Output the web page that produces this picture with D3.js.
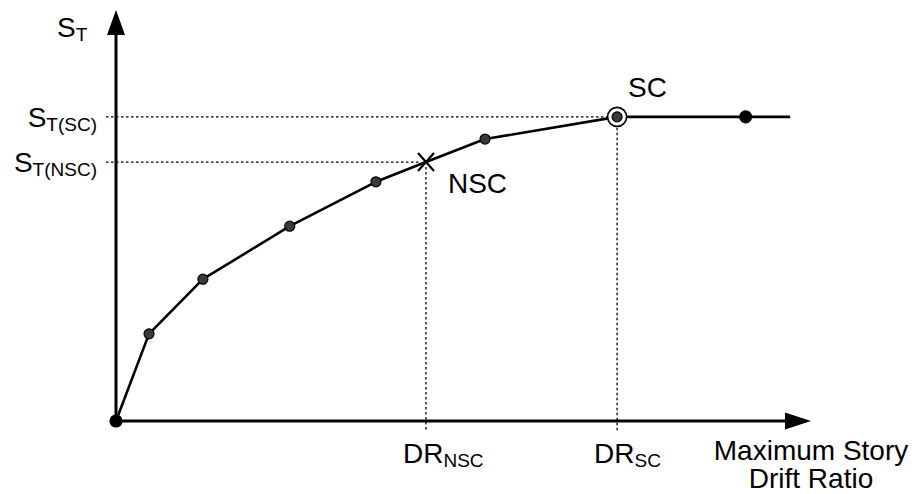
<!DOCTYPE html>
<html>
<head>
<meta charset="utf-8">
<script src="https://cdn.jsdelivr.net/npm/d3@7"></script>
<style>
  html, body { margin: 0; padding: 0; background: #fff; }
  svg { display: block; }
  text { font-family: "Liberation Sans", Arial, sans-serif; fill: #000; }
</style>
</head>
<body>
<svg id="chart" width="922" height="494"></svg>
<script>
// Pushover curve: spectral acceleration S_T vs. maximum story drift ratio (relative units)
const driftValues = [0, 4.75, 12.5, 25, 37.4, 53.1, 72.1, 90.6];
const stValues    = [0, 21.2, 34.5, 47.4, 58.2, 68.6, 74.0, 74.0];
const curveEnd    = { drift: 97, st: 74.0 };

// Characteristic states
const nscState = { drift: 44.6, st: 63.0, name: "NSC" };
const scState  = { drift: 72.1, st: 74.0, name: "SC" };

// Axis labels
const yAxisLabel = { main: "S", sub: "T" };
const yTickLabels = [
  { st: scState.st,  main: "S", sub: "T(SC)" },
  { st: nscState.st, main: "S", sub: "T(NSC)" }
];
const xTickLabels = [
  { drift: nscState.drift, main: "DR", sub: "NSC" },
  { drift: scState.drift,  main: "DR", sub: "SC" }
];
const xAxisTitle = ["Maximum Story", "Drift Ratio"];

const svg = d3.select("#chart");
const x = d3.scaleLinear().domain([0, 100]).range([116, 811]);
const y = d3.scaleLinear().domain([0, 100]).range([421, 10]);

// Axes with arrowheads
svg.append("line")
  .attr("x1", x(0)).attr("y1", y(0)).attr("x2", x(0)).attr("y2", y(100) + 20)
  .attr("stroke", "#000").attr("stroke-width", 3);
svg.append("path")
  .attr("d", `M${x(0)},${y(100)} L${x(0) - 9},${y(100) + 25} L${x(0) + 9},${y(100) + 25} Z`)
  .attr("fill", "#000");
svg.append("line")
  .attr("x1", x(0)).attr("y1", y(0)).attr("x2", x(100) - 20).attr("y2", y(0))
  .attr("stroke", "#000").attr("stroke-width", 3);
svg.append("path")
  .attr("d", `M${x(100)},${y(0)} L${x(100) - 26},${y(0) - 8.5} L${x(100) - 26},${y(0) + 8.5} Z`)
  .attr("fill", "#000");

// Dotted guide lines
const dotted = "2.5,2.5";
yTickLabels.forEach((t, i) => {
  const endDrift = i === 0 ? scState.drift : nscState.drift;
  svg.append("line")
    .attr("x1", x(0) - 10).attr("x2", x(endDrift) - (i === 0 ? 0 : 6))
    .attr("y1", y(t.st)).attr("y2", y(t.st))
    .attr("stroke", "#000").attr("stroke-width", 1.3).attr("stroke-dasharray", dotted);
});
xTickLabels.forEach((t, i) => {
  const st = i === 0 ? nscState.st : scState.st;
  svg.append("line")
    .attr("x1", x(t.drift)).attr("x2", x(t.drift))
    .attr("y1", y(st) + (i === 0 ? 5 : 11)).attr("y2", y(0) + 10)
    .attr("stroke", "#000").attr("stroke-width", 1.3).attr("stroke-dasharray", dotted);
});

// Curve through all points, passing through the NSC state
const curvePts = driftValues.map((d, i) => [d, stValues[i]]);
curvePts.splice(5, 0, [nscState.drift, nscState.st]);
curvePts.push([curveEnd.drift, curveEnd.st]);
svg.append("path")
  .datum(curvePts)
  .attr("d", d3.line().x(d => x(d[0])).y(d => y(d[1])))
  .attr("fill", "none").attr("stroke", "#000").attr("stroke-width", 2.6)
  .attr("stroke-linejoin", "round");

// Markers
const pts = driftValues.map((d, i) => ({ drift: d, st: stValues[i], i }));
const last = pts.length - 1;
// ring around SC
svg.append("circle")
  .attr("cx", x(scState.drift)).attr("cy", y(scState.st)).attr("r", 9.5)
  .attr("fill", "#fff").attr("stroke", "#000").attr("stroke-width", 1.6);
svg.selectAll("circle.pt").data(pts).join("circle")
  .attr("class", "pt")
  .attr("cx", d => x(d.drift)).attr("cy", d => y(d.st))
  .attr("r", d => (d.i === 0 || d.i === last) ? 6 : 5)
  .attr("fill", d => (d.i === 0 || d.i === last) ? "#000" : "#3a3a3a")
  .attr("stroke", "#000").attr("stroke-width", 1.2);

// X marker for NSC
const nx = x(nscState.drift), ny = y(nscState.st);
svg.append("path")
  .attr("d", `M${nx - 8},${ny - 9} L${nx + 8},${ny + 9} M${nx + 8},${ny - 9} L${nx - 8},${ny + 9}`)
  .attr("stroke", "#000").attr("stroke-width", 2.2);

// Text helpers
const FS = 28, SUB = 19;
function subText(xp, yp, main, sub, anchor) {
  const t = svg.append("text").attr("x", xp).attr("y", yp)
    .attr("text-anchor", anchor).attr("font-size", FS);
  t.append("tspan").text(main);
  t.append("tspan").attr("font-size", SUB).attr("dy", 4).text(sub);
  return t;
}

subText(57, 37, yAxisLabel.main, yAxisLabel.sub, "start");
yTickLabels.forEach(t => subText(97, y(t.st) + 10, t.main, t.sub, "end"));
xTickLabels.forEach(t => subText(x(t.drift) - 23, 463, t.main, t.sub, "start"));

svg.append("text").attr("x", nx + 22).attr("y", ny + 31)
  .attr("font-size", FS).text(nscState.name);
svg.append("text").attr("x", x(scState.drift) + 11).attr("y", y(scState.st) - 20)
  .attr("font-size", FS).text(scState.name);

const title = svg.append("text").attr("x", 811).attr("y", 460)
  .attr("text-anchor", "middle").attr("font-size", FS);
xAxisTitle.forEach((line, i) => {
  title.append("tspan").attr("x", 811).attr("dy", i === 0 ? 0 : 28).text(line);
});
</script>
</body>
</html>
